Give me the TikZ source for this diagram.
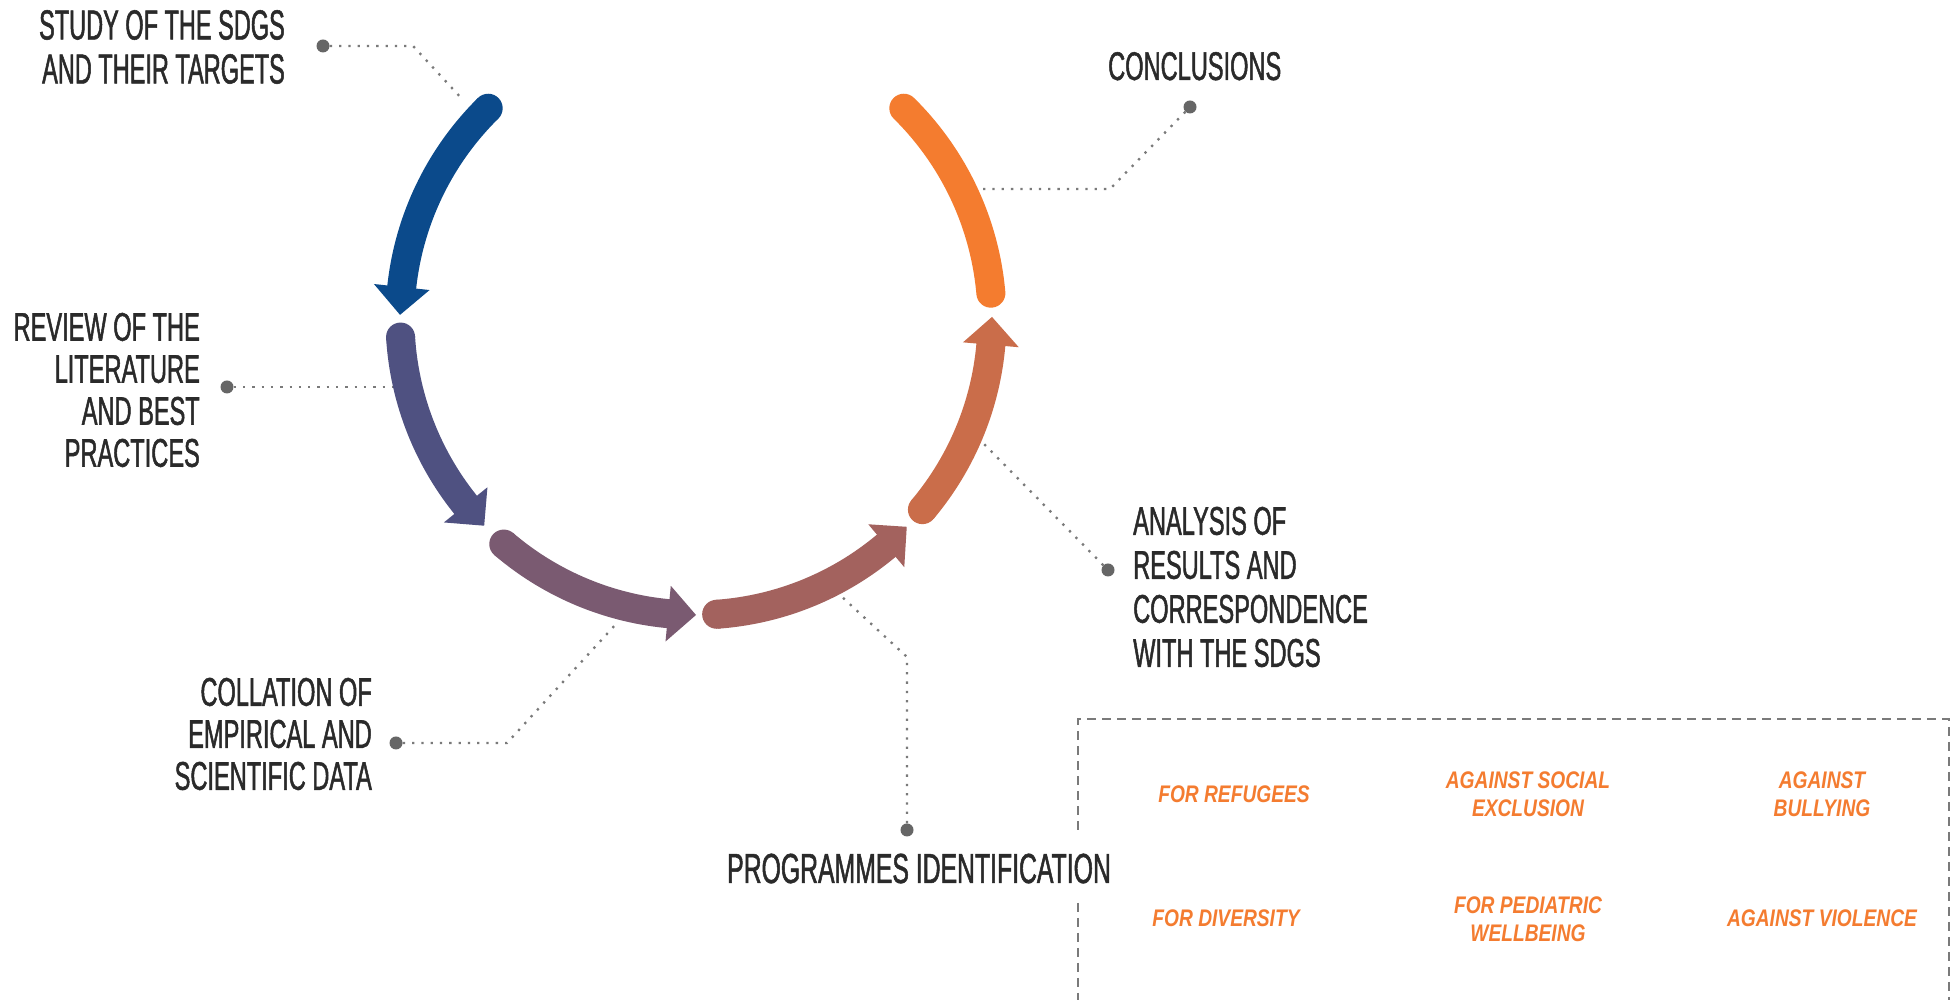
\documentclass[tikz,border=0pt]{standalone}
\usepackage{fontspec}
\usetikzlibrary{calc}
\newfontfamily\lblfont[FakeStretch=0.59,FakeBold=1.2]{Liberation Sans}
\newfontfamily\studyfont[FakeStretch=0.56,FakeBold=1.2]{Liberation Sans}
\newfontfamily\tagfont[FakeStretch=0.8]{Liberation Sans}
\definecolor{segA}{HTML}{0B4A8B}
\definecolor{segB}{HTML}{4F5181}
\definecolor{segC}{HTML}{7A5A71}
\definecolor{segD}{HTML}{A3625E}
\definecolor{segE}{HTML}{CA6D4A}
\definecolor{segF}{HTML}{F47C2F}
\definecolor{txtdark}{HTML}{2A2A2A}
\definecolor{tagorange}{HTML}{F47C30}
\definecolor{dotgray}{HTML}{666666}
\definecolor{linegray}{HTML}{7A7A7A}
\newcommand\segarrow[3]{%
  \pgfmathsetmacro\segbase{#3-5.4}%
  \pgfmathsetmacro\segend{#3-4.4}%
  \fill[#1] ($(C)+(#2:296pt)$) circle[radius=14.5pt];
  \draw[#1, line width=29pt] ($(C)+(#2:296pt)$) arc[start angle=#2, end angle=\segend, radius=296pt];
  \fill[#1] ($(C)+(\segbase:268pt)$) -- ($(C)+(#3:296pt)$) -- ($(C)+(\segbase:324pt)$) -- cycle;
}
\begin{document}
\begin{tikzpicture}[x=1pt,y=1pt,
  dotnode/.style={circle, fill=dotgray, minimum size=13pt, inner sep=0pt},
  dotline/.style={draw=linegray, line width=2.3pt, dash pattern=on 2.3pt off 7pt},
  boxline/.style={draw=linegray, line width=2.2pt, dash pattern=on 9pt off 6pt},
  lblbase/.style={text=txtdark, inner sep=0pt},
  lbl/.style={lblbase, font=\lblfont\fontsize{40}{42}\selectfont},
  tag/.style={text=tagorange, inner sep=0pt, align=center, font=\tagfont\bfseries\itshape\fontsize{24}{28}\selectfont}]
\useasboundingbox (0,0) rectangle (1955,1000);
\fill[white] (0,0) rectangle (1955,1000);
\coordinate (C) at (696,681);

% cycle of arrows
\segarrow{segA}{134.6}{179.2}
\segarrow{segB}{183.5}{224.3}
\segarrow{segC}{229.5}{270}
\segarrow{segD}{274}{315.4}
\segarrow{segE}{319.9}{360.4}
\draw[segF, line width=29pt, line cap=round] ($(C)+(5:296pt)$) arc[start angle=5, end angle=45.4, radius=296pt];

% labels
\node[lblbase, anchor=east, align=right, font=\studyfont\fontsize{42}{44}\selectfont] (study) at (285,953) {STUDY OF THE SDGS\\AND THEIR TARGETS};
\node[lbl, anchor=east, align=right] (review) at (200,610) {REVIEW OF THE\\LITERATURE\\AND BEST\\PRACTICES};
\node[lbl, anchor=east, align=right] (collation) at (372,266) {COLLATION OF\\EMPIRICAL AND\\SCIENTIFIC DATA};
\node[lblbase, anchor=base west, font=\lblfont\fontsize{42}{44}\selectfont] (programmes) at (727,117) {PROGRAMMES IDENTIFICATION};
\node[lblbase, anchor=west, align=left, font=\lblfont\fontsize{40}{44}\selectfont] (analysis) at (1133,413) {ANALYSIS OF\\RESULTS AND\\CORRESPONDENCE\\WITH THE SDGS};
\node[lbl, anchor=base west] (conclusions) at (1108,920) {CONCLUSIONS};

% dots
\node[dotnode] (d1) at (323,954) {};
\node[dotnode] (d2) at (227,613) {};
\node[dotnode] (d3) at (396,257) {};
\node[dotnode] (d4) at (907,170) {};
\node[dotnode] (d5) at (1108,430) {};
\node[dotnode] (d6) at (1190,893) {};

% bends and ends
\coordinate (b1) at (413,954);
\coordinate (e1) at (463,900);
\coordinate (e2) at (392,613);
\coordinate (b3) at (507,257);
\coordinate (e3) at (617,377);
\coordinate (b4) at (907,343);
\coordinate (e4) at (840,405);
\coordinate (e5) at (983,557);
\coordinate (b6) at (1110,811);
\coordinate (e6) at (983,811);

\draw[dotline] (d1) -- (b1) -- (e1);
\draw[dotline] (d2) -- (e2);
\draw[dotline] (d3) -- (b3) -- (e3);
\draw[dotline] (d4) -- (b4) -- (e4);
\draw[dotline] (d5) -- (e5);
\draw[dotline] (d6) -- (b6) -- (e6);

% dashed box
\draw[boxline] (1078,170) -- (1078,281) -- (1949,281) -- (1949,-10);
\draw[boxline] (1078,97) -- (1078,-10);

% programme tags
\node[tag] (t1) at (1234,206) {FOR REFUGEES};
\node[tag] (t2) at (1528,206) {AGAINST SOCIAL\\EXCLUSION};
\node[tag] (t3) at (1822,206) {AGAINST\\BULLYING};
\node[tag] (t4) at (1226,82) {FOR DIVERSITY};
\node[tag] (t5) at (1528,81) {FOR PEDIATRIC\\WELLBEING};
\node[tag] (t6) at (1822,82) {AGAINST VIOLENCE};
\end{tikzpicture}
\end{document}
